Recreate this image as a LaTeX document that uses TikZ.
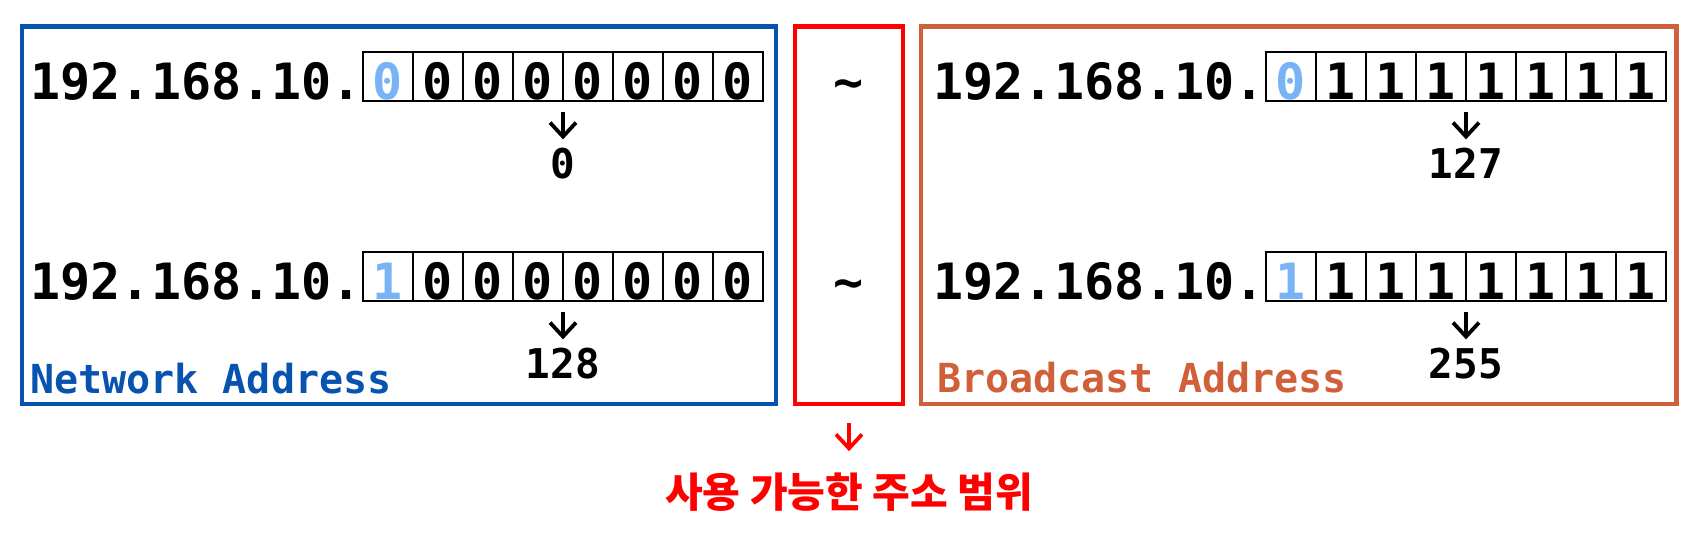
\documentclass[tikz,border=0pt]{standalone}
\usepackage{fontspec}
\setmonofont{DejaVu Sans Mono}
\newfontfamily\kofont{Noto Sans CJK KR}
\usepackage{xcolor}
\usepackage{tikz}
\usetikzlibrary{arrows.meta}
\definecolor{netBlue}{RGB}{8,82,176}
\definecolor{castOrange}{RGB}{208,96,58}
\definecolor{bitBlue}{RGB}{120,180,245}
\definecolor{rangeRed}{RGB}{255,0,0}

\begin{document}
\begin{tikzpicture}[x=1pt, y=-1pt,
    >={Straight Barb[length=14pt,width=26pt]},
    frame/.style={draw, line width=4.5pt, inner sep=0pt, outer sep=0pt, minimum height=377.5pt},
    bit/.style={draw, line width=1.8pt, inner sep=0pt, outer sep=0pt, minimum width=50pt,
        minimum height=49pt, text height=45pt, text depth=0pt, font=\bigMono},
    down/.style={->, line width=3.8pt, shorten <=11pt, shorten >=8pt}]
    \def\bigMono{\ttfamily\bfseries\fontsize{50}{60}\selectfont}
    \def\midMono{\ttfamily\bfseries\fontsize{41}{49}\selectfont}
    \def\labelMono{\ttfamily\bfseries\fontsize{40}{48}\selectfont}
    \useasboundingbox (0,0) rectangle (1697,539);
    \node[frame, draw=netBlue, minimum width=754pt] (netBox) at (399,215.25) {};
    \node[frame, draw=rangeRed, minimum width=108pt] (rangeBox) at (849,215.25) {};
    \node[frame, draw=castOrange, minimum width=755.5pt] (castBox) at (1298.75,215.25) {};
    \foreach \row/\x/\y/\first/\rest in {netA/338/76.5/0/0, netB/338/276.5/1/0,
        castA/1241/76.5/0/1, castB/1241/276.5/1/1} {
        \node[anchor=base east, inner sep=0pt, font=\bigMono] (\row Ip) at (\x+24,\y+22.5) {192.168.10.};
        \node[bit, text=bitBlue] (\row1) at (\x+50,\y) {\first};
        \foreach \i in {2,...,8}
            \node[bit] (\row\i) at (\x+50*\i,\y) {\rest};
    }
    \node[anchor=base, inner sep=0pt, font=\midMono] (netANum) at (563,178) {0};
    \node[anchor=base, inner sep=0pt, font=\midMono] (netBNum) at (563,378) {128};
    \node[anchor=base, inner sep=0pt, font=\midMono] (castANum) at (1466,178) {127};
    \node[anchor=base, inner sep=0pt, font=\midMono] (castBNum) at (1466,378) {255};
    \draw[down] (netA4.south east) -- (netANum.north);
    \draw[down] (netB4.south east) -- (netBNum.north);
    \draw[down] (castA4.south east) -- (castANum.north);
    \draw[down] (castB4.south east) -- (castBNum.north);
    \node[anchor=base, inner sep=0pt, font=\bigMono] (tildeA) at (849,99) {\textasciitilde};
    \node[anchor=base, inner sep=0pt, font=\bigMono] (tildeB) at (849,299) {\textasciitilde};
    \node[anchor=base west, inner sep=0pt, font=\labelMono, text=netBlue] (netLabel) at (30,393) {Network Address};
    \node[anchor=base west, inner sep=0pt, font=\labelMono, text=castOrange] (castLabel) at (937,392) {Broadcast Address};
    \node[anchor=base, inner sep=0pt, font=\kofont\bfseries\fontsize{41}{49}\selectfont, text=rangeRed] (rangeText) at (849,507) {사용 가능한 주소 범위};
    \draw[->, rangeRed, line width=3.8pt, shorten <=19pt, shorten >=21pt] (rangeBox.south) -- (rangeText.north);
\end{tikzpicture}
\end{document}
